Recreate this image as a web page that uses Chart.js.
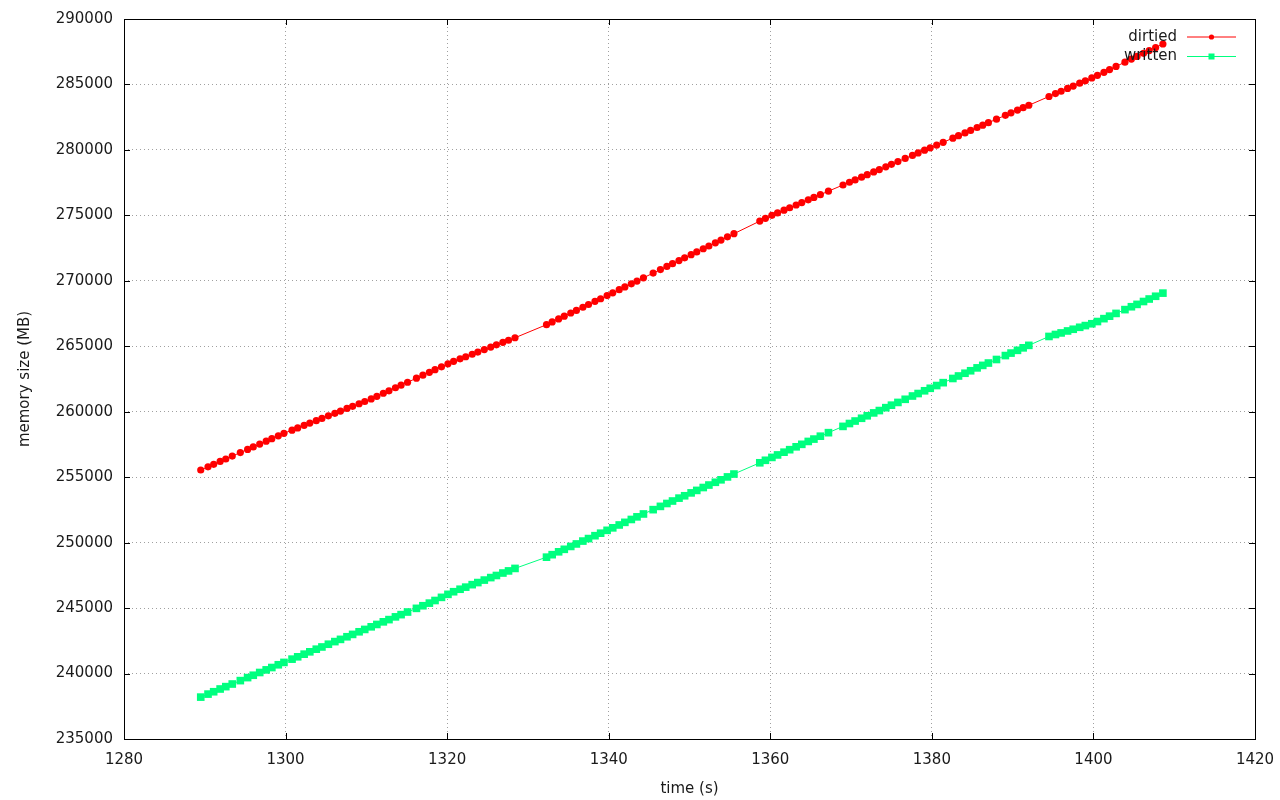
<!DOCTYPE html>
<html>
<head>
<meta charset="utf-8">
<title>dirtied / written</title>
<script src="https://cdn.jsdelivr.net/npm/chart.js@4.4.1/dist/chart.umd.min.js"></script>
<style>
  html, body { margin: 0; padding: 0; background: #fff; }
  #wrap { width: 1280px; height: 800px; }
</style>
</head>
<body>
<div id="wrap"><canvas id="chart" width="1280" height="800"></canvas></div>
<script>
// sample times (s), shared by both series
const times = [
  1289.5, 1290.4, 1291.1, 1291.9, 1292.6, 1293.4, 1294.4, 1295.3, 1296.0, 1296.8,
  1297.6, 1298.3, 1299.1, 1299.8, 1300.8, 1301.5, 1302.3, 1303.0, 1303.8, 1304.5,
  1305.3, 1306.1, 1306.8, 1307.6, 1308.3, 1309.1, 1309.8, 1310.6, 1311.3, 1312.1,
  1312.8, 1313.6, 1314.3, 1315.1, 1316.2, 1317.0, 1317.8, 1318.5, 1319.3, 1320.1,
  1320.8, 1321.6, 1322.3, 1323.1, 1323.8, 1324.6, 1325.4, 1326.1, 1326.9, 1327.6,
  1328.4,
  1332.3, 1333.0, 1333.8, 1334.5, 1335.3, 1336.0, 1336.8, 1337.5, 1338.3, 1339.0,
  1339.8, 1340.5, 1341.3, 1342.0, 1342.8, 1343.5, 1344.3, 1345.5, 1346.4, 1347.2,
  1347.9, 1348.7, 1349.4, 1350.2, 1350.9, 1351.7, 1352.4, 1353.2, 1353.9, 1354.7,
  1355.5,
  1358.7, 1359.4, 1360.2, 1360.9, 1361.7, 1362.4, 1363.2, 1363.9, 1364.7, 1365.4,
  1366.2, 1367.2, 1369.0, 1369.8, 1370.5, 1371.3, 1372.0, 1372.8, 1373.5, 1374.3,
  1375.0, 1375.8, 1376.7, 1377.6, 1378.3, 1379.1, 1379.8, 1380.6, 1381.4, 1382.6,
  1383.3, 1384.1, 1384.8, 1385.6, 1386.3, 1387.0, 1388.0, 1389.1, 1389.8, 1390.6,
  1391.3, 1392.0,
  1394.5, 1395.3, 1396.0, 1396.8, 1397.5, 1398.3, 1399.0, 1399.8, 1400.5, 1401.3,
  1402.0, 1402.8, 1403.9, 1404.7, 1405.4, 1406.2, 1406.9, 1407.7, 1408.6
];

// memory dirtied (MB)
const dirtied = [
  255550, 255790, 255980, 256200, 256390, 256610, 256880, 257120, 257310, 257530,
  257750, 257940, 258160, 258350, 258590, 258760, 258960, 259130, 259320, 259490,
  259690, 259880, 260050, 260250, 260410, 260610, 260780, 260980, 261180, 261410,
  261600, 261830, 262030, 262250, 262560, 262790, 263010, 263210, 263430, 263660,
  263850, 264040, 264200, 264390, 264560, 264750, 264940, 265110, 265300, 265460,
  265650,
  266650, 266860, 267090, 267300, 267540, 267740, 267980, 268190, 268430, 268630,
  268870, 269080, 269320, 269530, 269770, 269980, 270230, 270590, 270860, 271100,
  271310, 271550, 271760, 272000, 272210, 272450, 272660, 272900, 273110, 273360,
  273600,
  274560, 274770, 275000, 275190, 275400, 275580, 275790, 275980, 276190, 276370,
  276580, 276850, 277320, 277530, 277710, 277920, 278110, 278320, 278500, 278710,
  278900, 279110, 279350, 279580, 279770, 279980, 280160, 280370, 280580, 280900,
  281090, 281300, 281490, 281710, 281890, 282080, 282350, 282640, 282830, 283040,
  283230, 283410,
  284080, 284300, 284480, 284700, 284880, 285100, 285280, 285500, 285700, 285930,
  286140, 286380, 286700, 286940, 287140, 287380, 287590, 287820, 288090
];

// memory written (MB)
const written = [
  238200, 238430, 238610, 238820, 239000, 239200, 239460, 239690, 239870, 240080,
  240280, 240460, 240670, 240850, 241100, 241280, 241480, 241660, 241860, 242030,
  242240, 242440, 242610, 242810, 242990, 243190, 243370, 243570, 243750, 243950,
  244120, 244330, 244500, 244700, 244980, 245180, 245380, 245580, 245820, 246050,
  246250, 246440, 246600, 246790, 246950, 247140, 247330, 247490, 247680, 247840,
  248030,
  248890, 249080, 249300, 249490, 249710, 249900, 250120, 250310, 250530, 250720,
  250940, 251130, 251350, 251550, 251770, 251970, 252190, 252520, 252770, 252990,
  253180, 253400, 253580, 253800, 253990, 254210, 254400, 254610, 254800, 255020,
  255240,
  256100, 256290, 256510, 256700, 256910, 257100, 257320, 257510, 257730, 257910,
  258130, 258400, 258880, 259100, 259290, 259500, 259690, 259910, 260090, 260310,
  260500, 260710, 260950, 261200, 261390, 261600, 261790, 262000, 262220, 262540,
  262730, 262940, 263130, 263350, 263540, 263720, 263990, 264290, 264480, 264690,
  264880, 265070,
  265750, 265900, 266020, 266170, 266300, 266450, 266580, 266720, 266890, 267110,
  267300, 267510, 267800, 268020, 268200, 268420, 268610, 268820, 269060
];

const xTickValues = [1280, 1300, 1320, 1340, 1360, 1380, 1400, 1420];
const yTickValues = [235000, 240000, 245000, 250000, 255000, 260000, 265000,
                     270000, 275000, 280000, 285000, 290000];

const FONT = '"DejaVu Sans", sans-serif';
const TEXT = '#1a1a1a';
const GRID = '#a0a0a0';

const toPoints = vals => times.map((t, i) => ({ x: t, y: vals[i] }));

// keep the plot frame where gnuplot puts it, no extra room for edge labels
const noEdgePadding = s => {
  s.paddingLeft = 0; s.paddingRight = 0;
  s.paddingTop = 0; s.paddingBottom = 0;
};

/** gnuplot-like frame, inward ticks and key */
const gnuplotFrame = {
  id: 'gnuplotFrame',
  afterDraw(chart) {
    const { ctx, chartArea: a, scales: { x, y } } = chart;
    ctx.save();
    ctx.strokeStyle = '#000';
    ctx.lineWidth = 1;
    ctx.strokeRect(a.left + 0.5, a.top + 0.5, a.right - a.left, a.bottom - a.top);
    ctx.beginPath();
    x.ticks.forEach(t => {
      const px = Math.round(x.getPixelForValue(t.value)) + 0.5;
      ctx.moveTo(px, a.bottom); ctx.lineTo(px, a.bottom - 6);
      ctx.moveTo(px, a.top); ctx.lineTo(px, a.top + 6);
    });
    y.ticks.forEach(t => {
      const py = Math.round(y.getPixelForValue(t.value)) + 0.5;
      ctx.moveTo(a.left, py); ctx.lineTo(a.left + 6, py);
      ctx.moveTo(a.right, py); ctx.lineTo(a.right - 6, py);
    });
    ctx.stroke();

    // key, top right
    ctx.font = '15px ' + FONT;
    ctx.textAlign = 'right';
    ctx.textBaseline = 'middle';
    chart.data.datasets.forEach((ds, i) => {
      const ky = a.top + 18 + i * 19.5;
      const x0 = a.right - 68, x1 = a.right - 19, xm = (x0 + x1) / 2;
      ctx.fillStyle = TEXT;
      ctx.fillText(ds.label, a.right - 78, ky);
      ctx.strokeStyle = ds.borderColor;
      ctx.beginPath();
      ctx.moveTo(x0, ky); ctx.lineTo(x1, ky);
      ctx.stroke();
      ctx.fillStyle = ds.pointBackgroundColor;
      if (ds.pointStyle === 'rect') {
        ctx.fillRect(xm - 3, ky - 3, 6, 6);
      } else {
        ctx.beginPath();
        ctx.arc(xm, ky, 2.6, 0, Math.PI * 2);
        ctx.fill();
      }
    });
    ctx.restore();
  }
};

new Chart(document.getElementById('chart'), {
  type: 'line',
  data: {
    datasets: [
      {
        label: 'dirtied',
        data: toPoints(dirtied),
        borderColor: '#ff0000',
        backgroundColor: '#ff0000',
        pointBackgroundColor: '#ff0000',
        pointBorderWidth: 0,
        pointStyle: 'circle',
        pointRadius: 3.6,
        borderWidth: 1,
        tension: 0
      },
      {
        label: 'written',
        data: toPoints(written),
        borderColor: '#00ff7f',
        backgroundColor: '#00ff7f',
        pointBackgroundColor: '#00ff7f',
        pointBorderWidth: 0,
        pointStyle: 'rect',
        pointRadius: 5.4,
        borderWidth: 1,
        tension: 0
      }
    ]
  },
  options: {
    responsive: false,
    animation: false,
    devicePixelRatio: 1,
    layout: { padding: { left: 0, top: 19, right: 25, bottom: 0 } },
    plugins: {
      legend: { display: false },
      tooltip: { enabled: false }
    },
    scales: {
      x: {
        type: 'linear',
        min: 1280,
        max: 1420,
        afterBuildTicks: s => { s.ticks = xTickValues.map(v => ({ value: v })); },
        afterFit: s => { s.height = 61; noEdgePadding(s); },
        ticks: {
          color: TEXT,
          padding: 12,
          maxRotation: 0,
          font: { family: FONT, size: 15 },
          callback: v => String(v)
        },
        grid: { color: GRID, lineWidth: 1, drawTicks: false },
        border: { display: false, dash: [1, 3] },
        title: {
          display: true,
          text: 'time (s)',
          color: TEXT,
          font: { family: FONT, size: 15 },
          padding: { top: 0, bottom: 2 }
        }
      },
      y: {
        type: 'linear',
        min: 235000,
        max: 290000,
        afterBuildTicks: s => { s.ticks = yTickValues.map(v => ({ value: v })); },
        afterFit: s => { s.width = 124; noEdgePadding(s); },
        ticks: {
          color: TEXT,
          padding: 11,
          font: { family: FONT, size: 15 },
          callback: v => String(v)
        },
        grid: { color: GRID, lineWidth: 1, drawTicks: false },
        border: { display: false, dash: [1, 3] },
        title: {
          display: true,
          text: 'memory size (MB)',
          color: TEXT,
          font: { family: FONT, size: 15 },
          padding: { top: 16, bottom: 0 }
        }
      }
    }
  },
  plugins: [gnuplotFrame]
});
</script>
</body>
</html>
